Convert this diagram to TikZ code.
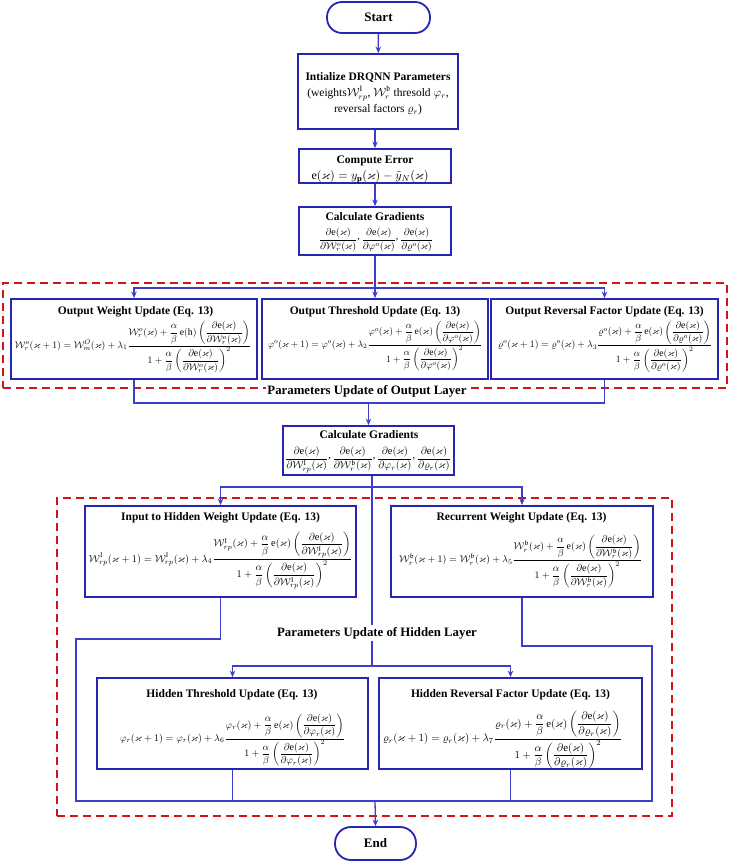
\documentclass[tikz,border=0pt]{standalone}
\usepackage{amsmath,amssymb}
\usepackage{graphicx}
\usepackage{fontspec}
\setmainfont{Liberation Serif}
\usetikzlibrary{arrows.meta,calc}

\definecolor{boxblue}{RGB}{38,38,178}
\definecolor{lineblue}{RGB}{62,62,205}
\definecolor{dashred}{RGB}{210,20,20}

\newcommand{\kx}{\varkappa}
\newcommand{\Wc}{\mathcal{W}}
\newcommand{\myE}{\mathrm{e}}
\newcommand{\rc}{\mathpunct{\raisebox{0.7ex}{,}}}
\newcommand{\updeq}[5]{#1(\kx+1)=#2(\kx)+\lambda_{#3}\dfrac{#4(\kx)+\dfrac{\alpha}{\beta}\,#5\left(\dfrac{\partial\myE(\kx)}{\partial #4(\kx)}\right)}{1+\dfrac{\alpha}{\beta}\left(\dfrac{\partial\myE(\kx)}{\partial #4(\kx)}\right)^{2}}}
\newcommand{\fitw}[2]{\resizebox{#1}{!}{$\displaystyle #2$}}

\tikzset{
  box/.style={draw=boxblue, line width=1.8pt, fill=white, inner sep=0pt},
  term/.style={draw=boxblue, line width=1.8pt, fill=white, rounded corners=15pt, inner sep=0pt,
    font=\bfseries\fontsize{13}{15}\selectfont},
  conn/.style={draw=lineblue, line width=1.3pt},
  arr/.style={conn, -{Stealth[length=6.5pt,width=5.5pt]}},
  group/.style={draw=dashred, line width=1.7pt, dash pattern=on 8pt off 5pt, inner sep=0pt},
  ttl/.style={font=\bfseries\fontsize{11.5}{13}\selectfont, inner sep=0pt},
  txt/.style={font=\fontsize{11.5}{16}\selectfont, inner sep=0pt, align=center},
  eqn/.style={inner sep=0pt},
  lbl/.style={font=\bfseries\fontsize{12.8}{14}\selectfont, fill=white, inner sep=1.5pt},
}

\begin{document}
\begin{tikzpicture}[x=1pt,y=-1pt]
\useasboundingbox[fill=white] (0,0) rectangle (730,861);

% group frames
\node[group, minimum width=724pt, minimum height=105pt] (gout) at (365,335.5) {};
\node[group, minimum width=615pt, minimum height=318pt] (ghid) at (364.5,657) {};

% top chain
\node[term, minimum width=103pt, minimum height=31pt] (start) at (378.5,17.5) {Start};
\node[box, minimum width=160pt, minimum height=75pt] (init) at (378,91.5) {};
\node[txt] (initt) at (378,93.5) {\textbf{Intialize DRQNN Parameters}\\(weights$\Wc^{\mathrm{I}}_{rp}$, $\Wc^{\mathfrak{b}}_{r}$ thresold $\varphi_{r}$,\\reversal factors $\varrho_{r}$)};

\node[box, minimum width=152pt, minimum height=34pt] (err) at (375,166) {};
\node[ttl] (errt) at (375,161) {Compute Error};
\node[eqn] (erre) at (370,177) {\fitw{117pt}{\myE(\kx)=y_{\mathbf{p}}(\kx)-\tilde{y}_{N}(\kx)}};

\node[box, minimum width=152pt, minimum height=48pt] (g1) at (375,231) {};
\node[ttl] (g1t) at (375,217) {Calculate Gradients};
\node[eqn] (g1e) at (376,240) {\fitw{114pt}{\dfrac{\partial\myE(\kx)}{\partial\Wc_r^{o}(\kx)}\rc\dfrac{\partial\myE(\kx)}{\partial\varphi^{o}(\kx)}\rc\dfrac{\partial\myE(\kx)}{\partial\varrho^{o}(\kx)}}};

% output layer boxes
\node[box, minimum width=246pt, minimum height=80pt] (o1) at (134,339) {};
\node[ttl] (o1t) at (135.5,312) {Output Weight Update (Eq. 13)};
\node[eqn] (o1e) at (133,347) {\fitw{236pt}{\updeq{\Wc_r^{o}}{\Wc_m^{O}}{1}{\Wc_r^{o}}{\myE(\mathrm{h})}}};

\node[box, minimum width=226pt, minimum height=80pt] (o2) at (375,339) {};
\node[ttl] (o2t) at (375,312) {Output Threshold Update (Eq. 13)};
\node[eqn] (o2e) at (375,346) {\fitw{214pt}{\updeq{\varphi^{o}}{\varphi^{o}}{2}{\varphi^{o}}{\myE(\kx)}}};

\node[box, minimum width=227pt, minimum height=80pt] (o3) at (604.5,339) {};
\node[ttl] (o3t) at (604.5,312) {Output Reversal Factor Update (Eq. 13)};
\node[eqn] (o3e) at (605,346.5) {\fitw{214pt}{\updeq{\varrho^{o}}{\varrho^{o}}{3}{\varrho^{o}}{\myE(\kx)}}};

% second gradients
\node[box, minimum width=171pt, minimum height=49pt] (g2) at (368.5,450.5) {};
\node[ttl] (g2t) at (369,435) {Calculate Gradients};
\node[eqn] (g2e) at (368,459.5) {\fitw{166pt}{\dfrac{\partial\myE(\kx)}{\partial\Wc_{rp}^{\mathrm{I}}(\kx)}\rc\dfrac{\partial\myE(\kx)}{\partial\Wc_r^{\mathfrak{b}}(\kx)}\rc\dfrac{\partial\myE(\kx)}{\partial\varphi_r(\kx)}\rc\dfrac{\partial\myE(\kx)}{\partial\varrho_r(\kx)}}};

% hidden layer boxes
\node[box, minimum width=271pt, minimum height=91pt] (ih) at (220.5,551.5) {};
\node[ttl] (iht) at (220.5,518) {Input to Hidden Weight Update (Eq. 13)};
\node[eqn] (ihe) at (220.5,560.5) {\fitw{263pt}{\updeq{\Wc_{rp}^{\mathrm{I}}}{\Wc_{rp}^{\mathrm{I}}}{4}{\Wc_{rp}^{\mathrm{I}}}{\myE(\kx)}}};

\node[box, minimum width=262pt, minimum height=91pt] (rw) at (522,551.5) {};
\node[ttl] (rwt) at (521.5,518) {Recurrent Weight Update (Eq. 13)};
\node[eqn] (rwe) at (520.5,561.5) {\fitw{243pt}{\updeq{\Wc_r^{\mathfrak{b}}}{\Wc_r^{\mathfrak{b}}}{5}{\Wc_r^{\mathfrak{b}}}{\myE(\kx)}}};

\node[box, minimum width=271pt, minimum height=91pt] (ht) at (232.5,723.5) {};
\node[ttl] (htt) at (232,695) {Hidden Threshold Update (Eq. 13)};
\node[eqn] (hte) at (232.5,740) {\fitw{225pt}{\updeq{\varphi_r}{\varphi_r}{6}{\varphi_r}{\myE(\kx)}}};

\node[box, minimum width=263pt, minimum height=91pt] (hr) at (510.5,723.5) {};
\node[ttl] (hrt) at (510.5,695) {Hidden Reversal Factor Update (Eq. 13)};
\node[eqn] (hre) at (502.5,740) {\fitw{239pt}{\updeq{\varrho_r}{\varrho_r}{7}{\varrho_r}{\myE(\kx)}}};

\node[term, minimum width=81pt, minimum height=33pt, rounded corners=16pt] (end) at (375.5,843.5) {End};

% layer labels
\node[lbl] (lout) at (367,391) {Parameters Update of Output Layer};
\node[lbl] (lhid) at (377,633) {Parameters Update of Hidden Layer};

% junction coordinates
\coordinate (j1) at (375,288);
\coordinate (j2) at (368.5,403);
\coordinate (j3) at (372,487);
\coordinate (j4) at (372,666);
\coordinate (fl) at (76,639);
\coordinate (fr) at (652,646);
\coordinate (jb) at (375,801);

% connectors
\draw[arr] (start) -- (init);
\draw[arr] (init.south -| err.north) -- (err.north);
\draw[arr] (err) -- (g1);
\draw[conn] (g1.south) -- (j1);
\draw[arr] (j1) -| (o1.north);
\draw[arr] (j1) -- (o2.north);
\draw[arr] (j1) -| (o3.north);

\draw[conn] (o1.south) |- (j2) -| (o3.south);
\draw[arr] (j2) -- (g2.north);

\draw[conn] (g2.south -| j3) -- (j3);
\draw[arr] (j3) -| (ih.north);
\draw[arr] (j3) -| (rw.north);
\draw[conn] (j3) -- (lhid.north -| j3);
\draw[conn] (lhid.south -| j4) -- (j4);
\draw[arr] (j4) -| (ht.north);
\draw[arr] (j4) -| (hr.north);

\draw[conn] (ih.south) |- (fl) |- (jb);
\draw[conn] (rw.south) |- (fr) |- (jb);
\draw[conn] (ht.south) -- (ht.south |- jb);
\draw[conn] (hr.south) -- (hr.south |- jb);
\draw[arr] (jb) -- (end.north);
\end{tikzpicture}
\end{document}
